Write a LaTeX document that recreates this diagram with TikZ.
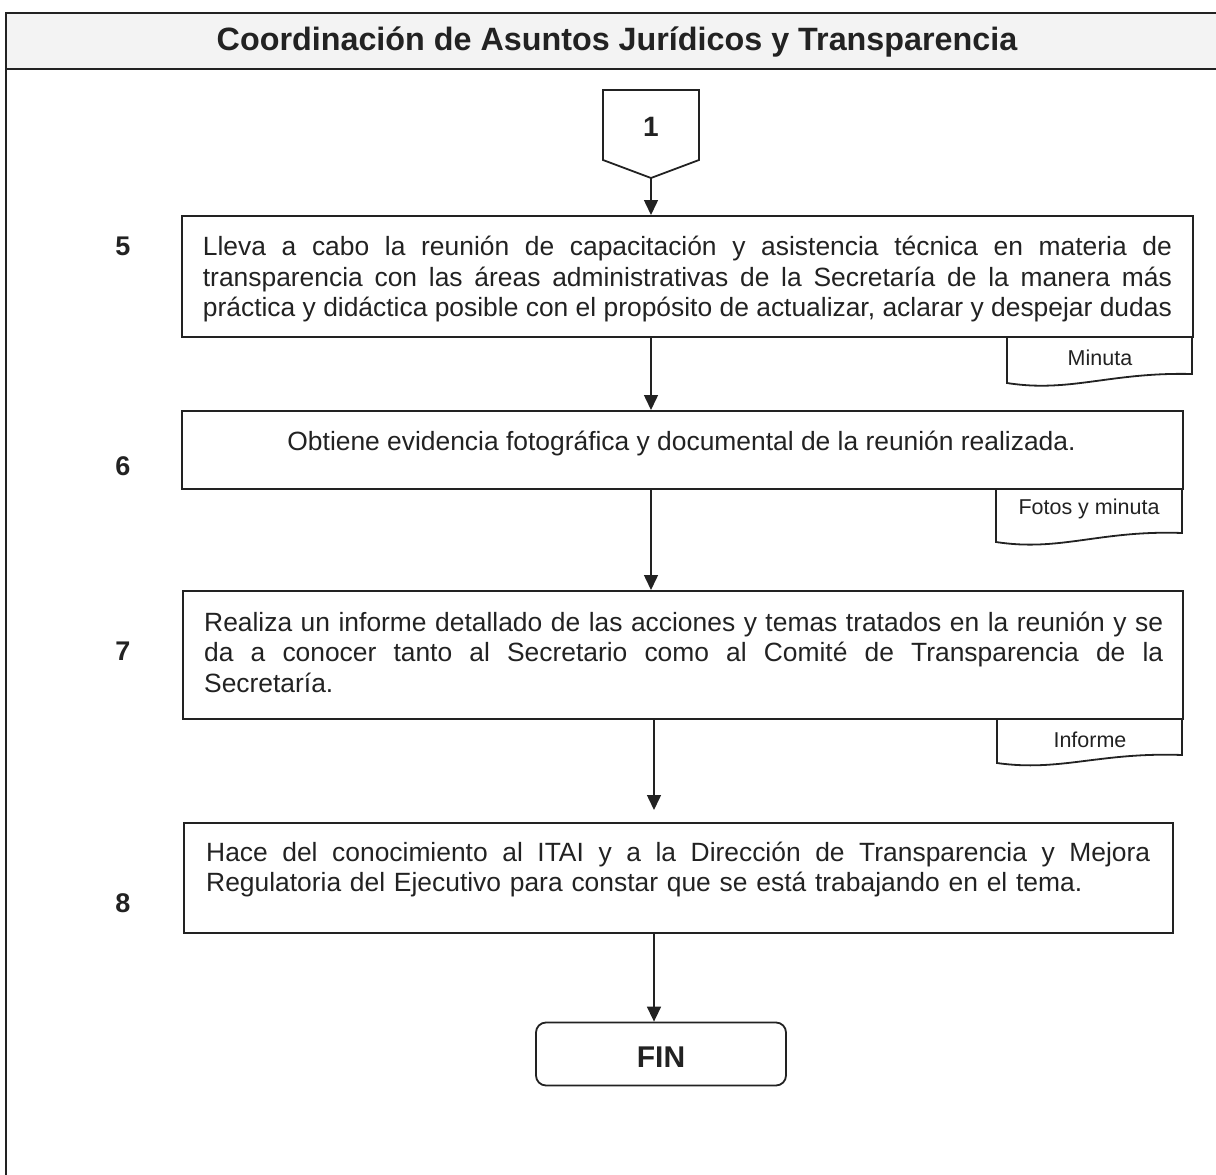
\documentclass[tikz,border=0pt]{standalone}
\usepackage{fontspec}
\setmainfont{Liberation Sans}
\usetikzlibrary{arrows.meta,calc}
\definecolor{hdrgrey}{HTML}{F3F3F3}
\definecolor{ink}{HTML}{222222}
\newcommand\jline[2]{\makebox[#1][s]{\spaceskip=0pt\xspaceskip=0pt\relax #2}}
\begin{document}
\begin{tikzpicture}[x=1pt,y=-1pt,
  boxline/.style={draw=ink,line width=1.8pt},
  stepbox/.style={boxline,anchor=north west,inner sep=0pt,rectangle},
  body/.style={font=\fontsize{26.4}{30.5}\selectfont,text=ink,inner sep=0pt},
  doclabel/.style={font=\fontsize{21.5}{24}\selectfont,text=ink,inner sep=0pt},
  numlabel/.style={font=\fontsize{27}{30}\selectfont\bfseries,text=ink,inner sep=0pt},
  arr/.style={draw=ink,line width=1.5pt,-{Triangle[width=14pt,length=15pt]}},
]
\useasboundingbox (0,0) rectangle (1216,1175);
% frame and header
\fill[hdrgrey] (6,13) rectangle (1222,69);
\draw[boxline] (6,1180) -- (6,13) -- (1222,13);
\draw[boxline] (6,69) -- (1222,69);
\node[font=\fontsize{32.3}{34}\selectfont\bfseries,text=ink,inner sep=0pt] (title) at (617,42) {Coordinación de Asuntos Jurídicos y Transparencia};

% off-page connector 1
\draw[boxline,line join=miter] (603,90) -- (699,90) -- (699,160) -- (651,178) -- (603,160) -- cycle;
\coordinate (c1tip) at (651,178);
\node[font=\fontsize{28}{30}\selectfont\bfseries,text=ink,inner sep=0pt] (one) at (651,127) {1};

\coordinate (colA) at (651,0);
\coordinate (colB) at (654,0);

% box 5
\node[stepbox,minimum width=1011pt,minimum height=121pt] (b5) at (181,215) {};
\node[body,text width=969pt,align=left,yshift=-3pt] (t5) at (b5.center) {%
\jline{969pt}{Lleva a cabo la reunión de capacitación y asistencia técnica en materia de}\\
\jline{969pt}{transparencia con las áreas administrativas de la Secretaría de la manera más}\\
\jline{969pt}{práctica y didáctica posible con el propósito de actualizar, aclarar y despejar dudas}};
\node[numlabel] (n5) at (123,246) {5};
\draw[boxline] (1007,336) -- (1007,383) .. controls (1070,393) and (1110,372) .. (1192,374) -- (1192,336);
\node[doclabel] (d5) at (1100,358) {Minuta};

% box 6
\node[stepbox,minimum width=1001pt,minimum height=78pt] (b6) at (181,410) {};
\node[body] (t6) at (681.5,444) {Obtiene evidencia fotográfica y documental de la reunión realizada.};
\node[numlabel] (n6) at (123,466) {6};
\draw[boxline] (996,488) -- (996,542) .. controls (1060,552) and (1100,530) .. (1182,533) -- (1182,488);
\node[doclabel] (d6) at (1089,509) {Fotos y minuta};

% box 7
\node[stepbox,minimum width=1000pt,minimum height=128pt] (b7) at (182,590) {};
\node[body,text width=959pt,align=left,anchor=north west] (t7) at (204,611.5) {%
\jline{959pt}{Realiza un informe detallado de las acciones y temas tratados en la reunión y se}\\
\jline{959pt}{da a conocer tanto al Secretario como al Comité de Transparencia de la}\\
Secretaría.};
\node[numlabel] (n7) at (123,651) {7};
\draw[boxline] (997,718) -- (997,763) .. controls (1060,772) and (1100,752) .. (1182,755) -- (1182,718);
\node[doclabel] (d7) at (1090,740) {Informe};

% box 8
\node[stepbox,minimum width=989pt,minimum height=110pt] (b8) at (183,822) {};
\node[body,text width=944pt,align=left,anchor=north west] (t8) at (206,841.5) {%
\jline{944pt}{Hace del conocimiento al ITAI y a la Dirección de Transparencia y Mejora}\\
Regulatoria del Ejecutivo para constar que se está trabajando en el tema.};
\node[numlabel] (n8) at (123,903) {8};

% FIN
\node[boxline,rounded corners=10pt,minimum width=250pt,minimum height=63pt,inner sep=0pt] (fin) at (661,1054) {};
\node[font=\fontsize{30}{32}\selectfont\bfseries,text=ink,inner sep=0pt] (fintext) at (661,1057) {FIN};

% connectors
\draw[arr] (c1tip) -- (b5.north -| c1tip);
\draw[arr] (b5.south -| colA) -- (b6.north -| colA);
\draw[arr] (b6.south -| colA) -- (b7.north -| colA);
\draw[arr,shorten >=12pt] (b7.south -| colB) -- (b8.north -| colB);
\draw[arr] (b8.south -| colB) -- (fin.north -| colB);
\end{tikzpicture}
\end{document}
